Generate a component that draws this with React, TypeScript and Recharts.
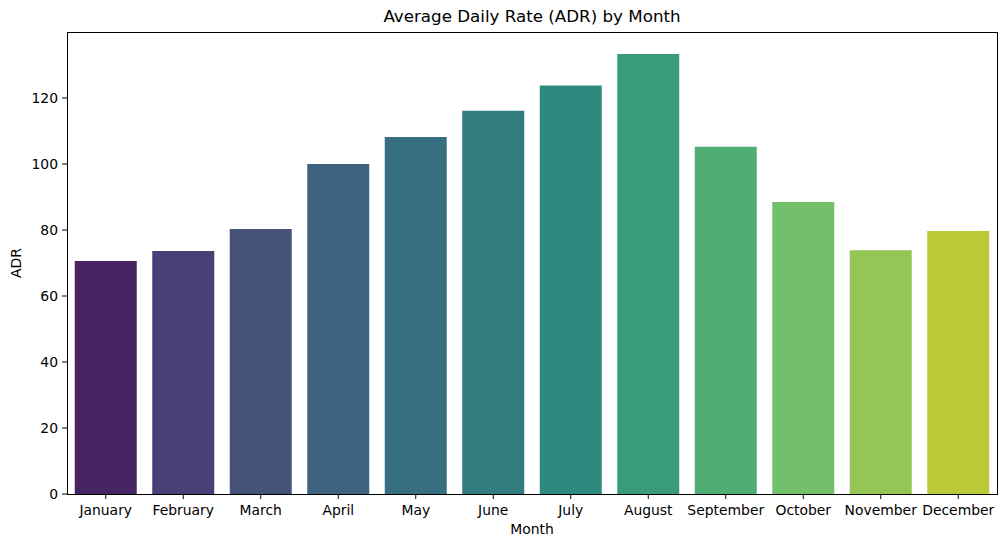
import { BarChart, Bar, XAxis, YAxis, Cell } from 'recharts'

const months = [
  'January', 'February', 'March', 'April', 'May', 'June',
  'July', 'August', 'September', 'October', 'November', 'December',
]

const adrValues = [70.6, 73.6, 80.3, 100.0, 108.2, 116.1, 123.8, 133.3, 105.2, 88.5, 73.9, 79.7]

const barColors = [
  '#472564', '#4a3f77', '#45537b', '#3e637f', '#386f80', '#327c7f',
  '#2e8a7e', '#389c7c', '#50ae75', '#73bf6a', '#95c555', '#bbc837',
]

const yTicks = [0, 20, 40, 60, 80, 100, 120]

const FONT = '"DejaVu Sans", sans-serif'

const chartData = months.map((month, i) => ({
  month,
  adr: adrValues[i],
  color: barColors[i],
}))

export default function App() {
  const tickStyle = { fontSize: 13.9, fill: '#000', fontFamily: FONT }

  return (
    <div style={{ position: 'fixed', left: 0, top: 0, width: 1005, height: 547, background: '#fff', fontFamily: FONT }}>
      <div
        style={{
          position: 'absolute', left: 67, width: 930, top: 6, textAlign: 'center',
          fontSize: 16.7, color: '#000', lineHeight: '20px',
        }}
      >
        Average Daily Rate (ADR) by Month
      </div>
      <div
        style={{
          position: 'absolute', left: 67, width: 930, top: 520, textAlign: 'center',
          fontSize: 13.9, color: '#000', lineHeight: '18px',
        }}
      >
        Month
      </div>
      <div
        style={{
          position: 'absolute', left: 16, top: 263, transform: 'translate(-50%, -50%) rotate(-90deg)',
          fontSize: 13.9, color: '#000', lineHeight: '18px', whiteSpace: 'nowrap',
        }}
      >
        ADR
      </div>
      <BarChart
        width={1005}
        height={547}
        data={chartData}
        margin={{ top: 32, right: 8, bottom: 0, left: 0 }}
        barCategoryGap="10%"
      >
        <XAxis
          dataKey="month"
          axisLine={false}
          tickSize={5}
          tickMargin={6}
          height={53}
          interval={0}
          tick={tickStyle}
          tickLine={{ stroke: '#000' }}
        />
        <YAxis
          domain={[0, 140]}
          ticks={yTicks}
          axisLine={false}
          tickSize={5}
          tickMargin={4}
          width={67}
          tick={tickStyle}
          tickLine={{ stroke: '#000' }}
          allowDataOverflow
        />
        <Bar dataKey="adr" isAnimationActive={false}>
          {chartData.map((d) => (
            <Cell key={d.month} fill={d.color} />
          ))}
        </Bar>
      </BarChart>
      {/* frame on all four sides, like matplotlib spines */}
      <div
        style={{
          position: 'absolute', left: 66.5, top: 31.5, width: 931, height: 463,
          boxSizing: 'border-box', border: '1px solid #000', pointerEvents: 'none',
        }}
      />
    </div>
  )
}
